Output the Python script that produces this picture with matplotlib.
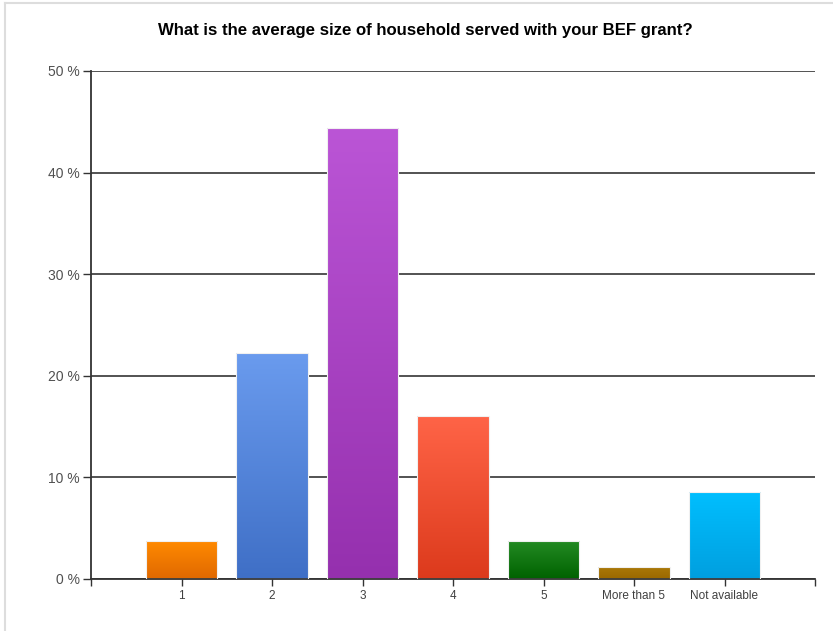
import numpy as np
import matplotlib.pyplot as plt
from matplotlib.colors import LinearSegmentedColormap
from matplotlib.lines import Line2D

plt.rcParams["font.family"] = ["Liberation Sans", "DejaVu Sans"]

categories = ["1", "2", "3", "4", "5", "More than 5", "Not available"]
percent = [3.7, 22.2, 44.4, 16.0, 3.7, 1.2, 8.6]
top_colors = ["#FF8A00", "#6A9BEE", "#BB55D6", "#FF6447", "#238A23", "#AC7A08", "#00BFFF"]
bottom_colors = ["#E06800", "#3F6FC6", "#9530AE", "#DC3A1C", "#006200", "#9A6800", "#009FDF"]
yticks = [0, 10, 20, 30, 40, 50]

fig = plt.figure(figsize=(8.33, 6.31), dpi=100)
ax = fig.add_axes([91 / 833, 1 - 579 / 631, (815 - 91) / 833, (579 - 71) / 631])

x = np.arange(1, len(categories) + 1)
bars = ax.bar(x, percent, width=0.79, color="none", edgecolor="#F0F0F0", linewidth=0.8, zorder=3)

# vertical gradient inside each bar
grad = np.linspace(1, 0, 256).reshape(-1, 1)
for b, c_top, c_bot in zip(bars, top_colors, bottom_colors):
    cmap = LinearSegmentedColormap.from_list("g", [c_bot, c_top])
    x0, w, h = b.get_x(), b.get_width(), b.get_height()
    im = ax.imshow(grad, cmap=cmap, aspect="auto", extent=[x0, x0 + w, 0, h],
                   origin="upper", zorder=2, interpolation="bicubic")
    im.set_clip_path(b)

ax.set_xlim(0, 8)
ax.set_ylim(0, 50)
ax.set_yticks(yticks)
ax.set_yticklabels([f"{t} %" for t in yticks], fontsize=10, color="#505050")
ax.set_xticks(np.arange(0, 9))
ax.set_xticklabels([""] + categories + [""], fontsize=8.5, color="#404040")
ax.tick_params(axis="y", length=6, width=1, color="#333333", pad=2)
ax.tick_params(axis="x", length=5, width=1, color="#333333", pad=3)
ax.grid(axis="y", color="#444444", linewidth=1.3, zorder=1)
for s in ["top", "right"]:
    ax.spines[s].set_visible(False)
for s in ["left", "bottom"]:
    ax.spines[s].set_color("#333333")
    ax.spines[s].set_linewidth(1.3)

fig.text(425 / 833, 1 - 31 / 631, "What is the average size of household served with your BEF grant?",
         ha="center", va="center", fontsize=12.1, fontweight="bold")

# light frame along the top and left edges
fig.add_artist(Line2D([5 / 833, 1], [1 - 3 / 631, 1 - 3 / 631], color="#DDDDDD", linewidth=1.5))
fig.add_artist(Line2D([5 / 833, 5 / 833], [0, 1 - 3 / 631], color="#DDDDDD", linewidth=1.5))

fig.savefig("out.png", dpi=100)
